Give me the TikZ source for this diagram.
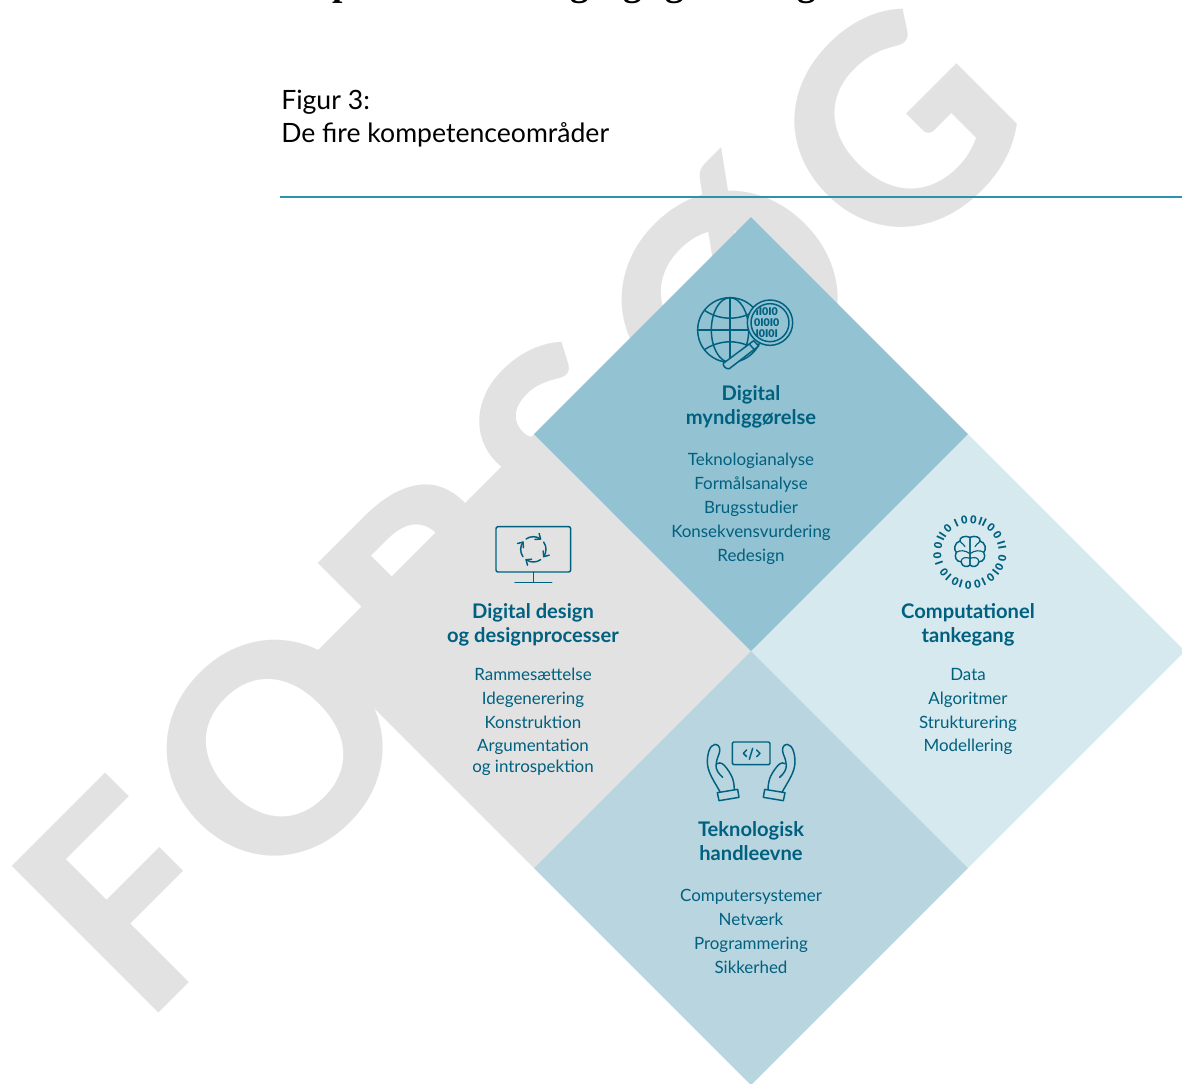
\documentclass[tikz,border=0pt]{standalone}
\usepackage{fontspec}
\usetikzlibrary{arrows.meta}
\setmainfont{Lato}
\newfontfamily\serifhead{Liberation Serif}
\newfontfamily\latoblack{Lato Black}
\newfontfamily\latoheavy{Lato Heavy}
\definecolor{wm}{HTML}{E2E2E2}
\definecolor{dtop}{HTML}{93C2D2}
\definecolor{dright}{HTML}{D6E9EF}
\definecolor{dbottom}{HTML}{B8D5E0}
\definecolor{ink}{HTML}{00607F}
\definecolor{rulec}{HTML}{2B93AE}
\tikzset{
  wmark/.style={text=wm,font=\fontsize{214.5}{214.5}\selectfont\latoheavy,anchor=base west,inner sep=0,rotate=45},
  head/.style={text=ink,font=\fontsize{15.1}{18.4}\selectfont\bfseries,align=center,anchor=north,inner sep=0},
  items/.style={text=ink,font=\fontsize{12.7}{18}\selectfont,align=center,anchor=north,inner sep=0},
  icon/.style={draw=ink,line width=1.1pt,line cap=round,line join=round},
  thin icon/.style={draw=ink,line width=.85pt,line cap=round,line join=round},
  titletext/.style={anchor=base west,inner sep=0,font=\fontsize{19.95}{24}\selectfont},
}
\begin{document}
\begin{tikzpicture}[x=.75pt,y=-.75pt]
\useasboundingbox (0,0) rectangle (1182,1083);
\clip (0,0) rectangle (1182,1083);
% watermark
\node[wmark] (wF) at (143,1029) {F};
\node[wmark] (wO) at (266,904) {O};
\node[wmark] (wR) at (449,726) {R};
\node[wmark] (wS) at (592,578) {S};
\node[wmark] (wOe) at (721,455) {Ø};
\node[wmark] (wG) at (894,276) {G};
% cut-off heading
\foreach \n/\x/\c in {a/343/p,b/580/g,c/633/g,d/675/g,e/807/g}
  \node[font=\serifhead\bfseries\fontsize{28}{28}\selectfont,anchor=base,inner sep=0] (h\n) at (\x,-5) {\c};
% title
\node[titletext] (fig) at (281,109) {Figur 3:};
\node[titletext] (figt) at (281,142) {De fire kompetenceområder};
\coordinate (ra) at (280,197); \coordinate (rb) at (1182,197);
\draw[rulec,line width=1pt] (ra) -- (rb);
% diamonds
\fill[wm] (534,434) -- (751,651) -- (534,868) -- (317,651) -- cycle;
\fill[dright] (968,434) -- (1185,651) -- (968,868) -- (751,651) -- cycle;
\fill[dbottom] (751,651) -- (968,868) -- (751,1085) -- (534,868) -- cycle;
\fill[dtop] (751,217) -- (968,434) -- (751,651) -- (534,434) -- cycle;
% texts
\node[head] (h1) at (751,385) {Digital\\myndiggørelse};
\node[items] (l1) at (751,453) {Teknologianalyse\\Formålsanalyse\\Brugsstudier\\Konsekvensvurdering\\Redesign};
\node[head] (h2) at (533,603) {Digital design\\og designprocesser};
\node[items] (l2) at (533,668) {Rammesættelse\\Idegenerering\\Konstruktion\\[-.75pt]Argumentation\\[-2.2pt]og introspektion};
\node[head] (h3) at (968,603) {Computationel\\tankegang};
\node[items] (l3) at (968,668) {Data\\Algoritmer\\Strukturering\\[-.75pt]Modellering};
\node[head] (h4) at (751,821) {Teknologisk\\handleevne};
\node[items] (l4) at (751,889) {Computersystemer\\Netværk\\Programmering\\Sikkerhed};
% globe icon
\begin{scope}[shift={(660,280)},scale=1/3]
  \draw[icon] (210,150) circle (97);
  \draw[icon] (210,53) -- (210,247);
  \draw[icon] (113,150) -- (307,150);
  \draw[icon] (210,150) ellipse (56 and 97);
  \draw[icon] (135,92) .. controls (180,122) and (240,122) .. (285,92);
  \draw[icon] (135,208) .. controls (180,178) and (240,178) .. (285,208);
  \fill[dtop] (330,128) circle (68);
  \draw[icon] (330,128) circle (68);
  \draw[icon] (330,128) circle (57);
  \begin{scope}
    \clip (330,128) circle (55);
    \node[text=ink,font=\fontsize{8}{8.3}\selectfont\latoblack,align=center,inner sep=0] (bin) at (320,128) {II0I0\\0I0I0\\I0I0I};
  \end{scope}
  \fill[dtop] (281,182) -- (296,198) -- (208,266) -- (190,250) -- cycle;
  \draw[icon] (281,182) -- (296,198) -- (208,266) .. controls (198,268) and (188,258) .. (190,250) -- cycle;
  \draw[icon] (268,192) -- (282,208);
\end{scope}
% monitor icon
\begin{scope}[shift={(470,510)},scale=1/3]
  \draw[icon,rounded corners=1.5pt] (78,50) rectangle (302,186);
  \draw[icon] (190,186) -- (190,217);
  \draw[icon] (135,217) -- (245,217);
  \foreach \a in {235,325,55,145}{
    \pgfmathsetmacro{\e}{\a+70}
    \pgfmathsetmacro{\tx}{190+38*cos(\e)}
    \pgfmathsetmacro{\ty}{118+38*sin(\e)}
    \draw[icon] (190,118) ++(\a:38) arc[start angle=\a,delta angle=70,radius=38];
    \draw[icon] ({\tx+13*sin(\e)+11*cos(\e)},{\ty-13*cos(\e)+11*sin(\e)}) -- (\tx,\ty)
      -- ({\tx+13*sin(\e)-11*cos(\e)},{\ty-13*cos(\e)-11*sin(\e)});
  }
\end{scope}
% brain ring icon
\begin{scope}[shift={(915,505)},scale=1/3]
  \foreach \a/\c in {84/0,100/0,115/I,133/0,147/I,155/I,168/0,185/0,199/I,217/0,229/I,243/0,254/I,267/0,283/0,295/I,309/0,322/I,333/0,350/0,9/I,17/I,33/0,50/0,64/I,71/I}
    \node[text=ink,font=\fontsize{8.2}{8}\selectfont\latoblack,inner sep=0,rotate=\a-90] at ({165+98*cos(\a)},{142-98*sin(\a)}) {\c};
  \draw[icon] (165,97) .. controls (150,90) and (132,97) .. (135,108)
    .. controls (118,112) and (115,135) .. (124,142)
    .. controls (116,155) and (125,172) .. (138,170)
    .. controls (140,186) and (158,188) .. (165,180) -- cycle;
  \draw[icon] (165,97) .. controls (180,90) and (198,97) .. (195,108)
    .. controls (212,112) and (215,135) .. (206,142)
    .. controls (214,155) and (205,172) .. (192,170)
    .. controls (190,186) and (172,188) .. (165,180) -- cycle;
  \draw[thin icon] (135,108) .. controls (140,118) and (150,118) .. (150,125) (124,142) .. controls (135,135) and (150,135) .. (165,146) (138,170) .. controls (140,158) and (150,155) .. (165,160);
  \draw[thin icon] (195,108) .. controls (190,118) and (180,118) .. (180,125) (206,142) .. controls (195,135) and (180,135) .. (165,146) (192,170) .. controls (190,158) and (180,155) .. (165,160);
\end{scope}
% hands icon
\begin{scope}[shift={(690,730)},scale=1/3]
  \draw[icon,rounded corners=1pt] (127,36) rectangle (240,104);
  \draw[icon] (170,60) -- (160,70) -- (170,80);
  \draw[icon] (200,60) -- (210,70) -- (200,80);
  \draw[icon] (188,55) -- (178,88);
  \foreach \s/\d in {1/0,-1/367}{
  \begin{scope}[shift={(\d,0)},xscale=\s]
    \draw[icon] (82,188) -- (143,178) -- (147,202) -- (87,212) -- cycle;
    \draw[icon] (90,185) .. controls (70,150) and (52,125) .. (52,95)
      .. controls (52,75) and (58,45) .. (75,43)
      .. controls (90,43) and (92,60) .. (87,72)
      .. controls (82,85) and (78,95) .. (78,106)
      .. controls (78,120) and (85,130) .. (98,142);
    \draw[icon] (82,101) .. controls (92,95) and (100,102) .. (108,112)
      .. controls (122,130) and (132,145) .. (133,178);
  \end{scope}}
\end{scope}
\end{tikzpicture}
\end{document}
